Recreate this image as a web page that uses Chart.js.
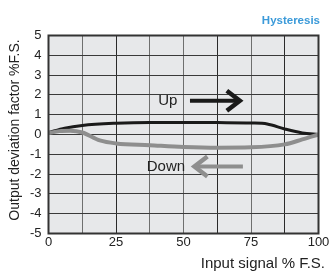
<!DOCTYPE html>
<html>
<head>
<meta charset="utf-8">
<script src="https://cdn.jsdelivr.net/npm/chart.js@4/dist/chart.umd.min.js"></script>
<style>
    html, body { margin: 0; padding: 0; background: #fff; }
    #wrap { width: 331px; height: 271px; }
</style>
</head>
<body>
<div id="wrap"><canvas id="chart"></canvas></div>
<script>
(function () {
    "use strict";

    // Data
    const upInput = [0, 6, 12.5, 25, 37.5, 50, 62.5, 75, 81, 87.5, 94, 100];
    const upValues = [0.1, 0.32, 0.46, 0.57, 0.61, 0.61, 0.6, 0.58, 0.53, 0.28, 0.08, 0];
    const downInput = [0, 4, 8, 12.5, 19, 25, 37.5, 50, 62.5, 75, 87.5, 94, 100];
    const downValues = [0.07, 0.17, 0.19, 0.1, -0.3, -0.45, -0.54, -0.63, -0.67, -0.65, -0.5, -0.25, 0];
    const xTickLabels = [0, 25, 50, 75, 100];
    const yTickLabels = [-5, -4, -3, -2, -1, 0, 1, 2, 3, 4, 5];

    const font = "'Liberation Sans', Arial, sans-serif";

    const toPoints = (xs, ys) => xs.map((x, i) => ({ x: x, y: ys[i] }));

    // Plot background, border, titles and the Up / Down arrows
    const decor = {
        id: "decor",
        beforeDraw(chart) {
            const { ctx, chartArea: a } = chart;
            ctx.save();
            ctx.fillStyle = "#e7e8ea";
            ctx.fillRect(a.left, a.top, a.right - a.left, a.bottom - a.top);
            ctx.restore();
        },
        afterDatasetsDraw(chart) {
            const { ctx, chartArea: a, scales } = chart;
            const sx = scales.x, sy = scales.y;
            ctx.save();

            // labels
            ctx.fillStyle = "#222";
            ctx.font = "15px " + font;
            ctx.textAlign = "center";
            ctx.textBaseline = "middle";
            ctx.fillText("Up", sx.getPixelForValue(44.2), sy.getPixelForValue(1.7));
            ctx.fillText("Down", sx.getPixelForValue(43.5), sy.getPixelForValue(-1.62));

            const arrow = (x0, x1, yv, color, w) => {
                const px0 = sx.getPixelForValue(x0), px1 = sx.getPixelForValue(x1);
                const py = sy.getPixelForValue(yv);
                const dir = Math.sign(px1 - px0);
                ctx.strokeStyle = color;
                ctx.lineWidth = w;
                ctx.lineCap = "butt";
                ctx.beginPath();
                ctx.moveTo(px0, py);
                ctx.lineTo(px1 - dir * 3, py);
                ctx.stroke();
                ctx.lineJoin = "miter";
                ctx.lineWidth = w + 0.5;
                ctx.beginPath();
                ctx.moveTo(px1 - dir * 15, py - 10);
                ctx.lineTo(px1 - dir * 2, py);
                ctx.lineTo(px1 - dir * 15, py + 10);
                ctx.stroke();
            };
            arrow(52.4, 71.6, 1.7, "#1a1a1a", 4);
            arrow(72, 53.3, -1.62, "#8e8e8e", 4);

            // border
            ctx.strokeStyle = "#333";
            ctx.lineWidth = 2;
            ctx.strokeRect(a.left, a.top, a.right - a.left, a.bottom - a.top);
            ctx.restore();
        },
        afterDraw(chart) {
            const { ctx } = chart;
            ctx.save();
            ctx.fillStyle = "#3b9ad9";
            ctx.font = "bold 11.5px " + font;
            ctx.textAlign = "right";
            ctx.textBaseline = "middle";
            ctx.fillText("Hysteresis", 320, 21);

            ctx.fillStyle = "#222";
            ctx.font = "15px " + font;
            ctx.fillText("Input signal % F.S.", 325, 264);

            ctx.font = "14px " + font;
            ctx.translate(15.5, 130);
            ctx.rotate(-Math.PI / 2);
            ctx.textAlign = "center";
            ctx.fillText("Output deviation factor %F.S.", 0, 0);
            ctx.restore();
        },
    };

    const darkX = [25, 62.5, 87.5];

    new Chart(document.getElementById("chart"), {
        type: "line",
        data: {
            datasets: [
                {
                    label: "Down",
                    data: toPoints(downInput, downValues),
                    borderColor: "#8e8e8e",
                    borderWidth: 4,
                    pointRadius: 0,
                    cubicInterpolationMode: "monotone",
                    order: 1,
                },
                {
                    label: "Up",
                    data: toPoints(upInput, upValues),
                    borderColor: "#1a1a1a",
                    borderWidth: 3,
                    pointRadius: 0,
                    cubicInterpolationMode: "monotone",
                    order: 2,
                },
            ],
        },
        options: {
            responsive: true,
            maintainAspectRatio: false,
            animation: false,
            layout: { padding: { left: 0, right: 12.5, top: 35.5, bottom: 0 } },
            plugins: {
                legend: { display: false },
                tooltip: { enabled: false },
            },
            scales: {
                x: {
                    type: "linear",
                    min: 0,
                    max: 100,
                    afterFit(scale) { scale.height = 37.5; },
                    afterBuildTicks(scale) {
                        const t = [];
                        for (let v = 0; v <= 100; v += 12.5) t.push({ value: v });
                        scale.ticks = t;
                    },
                    grid: {
                        drawTicks: false,
                        color: (c) => darkX.includes(c.tick && c.tick.value) ? "#2a2a2a" : "#6f6f6f",
                        lineWidth: 1,
                    },
                    border: { display: false },
                    ticks: {
                        padding: 1,
                        color: "#222",
                        font: { family: font, size: 13 },
                        maxRotation: 0,
                        autoSkip: false,
                        callback: (v) => xTickLabels.includes(v) ? String(v) : "",
                    },
                },
                y: {
                    min: -5,
                    max: 5,
                    afterFit(scale) { scale.width = 48.5; },
                    afterBuildTicks(scale) {
                        scale.ticks = yTickLabels.map((v) => ({ value: v }));
                    },
                    grid: {
                        drawTicks: false,
                        color: "#3a3a3a",
                        lineWidth: 1,
                    },
                    border: { display: false },
                    ticks: {
                        padding: 7,
                        color: "#222",
                        font: { family: font, size: 13 },
                    },
                },
            },
        },
        plugins: [decor],
    });
})();
</script>
</body>
</html>
